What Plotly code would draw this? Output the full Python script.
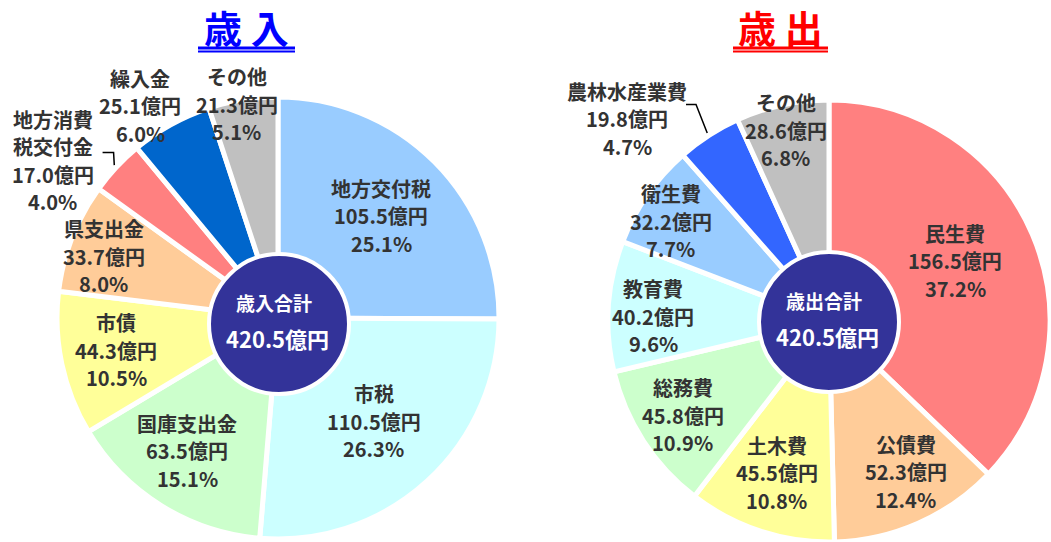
import math
import plotly.graph_objects as go

W, H = 1051, 542
FONT = "Noto Sans CJK JP"
TEXT_COLOR = "#333333"
NAVY = "#333399"

# ---- 歳入 (revenue) ----
rev_labels = ["地方交付税", "市税", "国庫支出金", "市債", "県支出金", "地方消費税交付金", "繰入金", "その他"]
rev_values = [105.5, 110.5, 63.5, 44.3, 33.7, 17.0, 25.1, 21.3]
rev_pcts = [25.1, 26.3, 15.1, 10.5, 8.0, 4.0, 6.0, 5.1]
rev_colors = ["#99CCFF", "#CCFFFF", "#CCFFCC", "#FFFF99", "#FFCC99", "#FF8080", "#0066CC", "#C0C0C0"]
rev_total = 420.5

# ---- 歳出 (expenditure) ----
exp_labels = ["民生費", "公債費", "土木費", "総務費", "教育費", "衛生費", "農林水産業費", "その他"]
exp_values = [156.5, 52.3, 45.5, 45.8, 40.2, 32.2, 19.8, 28.6]
exp_pcts = [37.2, 12.4, 10.8, 10.9, 9.6, 7.7, 4.7, 6.8]
exp_colors = ["#FF8080", "#FFCC99", "#FFFF99", "#CCFFCC", "#CCFFFF", "#99CCFF", "#3366FF", "#C0C0C0"]
exp_total = 420.5

# label wrapping for long category names
wrap = {"地方消費税交付金": ["地方消費", "税交付金"]}

# label placement: radius (fraction of pie radius) and angle tweak (deg)
rev_lab_r = [0.66, 0.64, 0.73, 0.75, 0.84, 1.25, 1.15, 0.99]
rev_lab_da = [0.2, -0.2, 2.4, 0.8, -1.9, -8.1, -4.0, -1.8]
exp_lab_r = [0.635, 0.77, 0.73, 0.79, 0.80, 0.85, 1.30, 0.89]
exp_lab_da = [-2.4, -3.2, 0.9, 0.1, -2.3, -2.6, -12.0, -0.5]

# pie geometry in pixels: centre x, centre y, radius
REV_PIE = (278, 318, 221)
EXP_PIE = (829, 321, 221)
REV_DISC = (279, 324, 70)
EXP_DISC = (829, 322, 70)
LABEL_R = 220
LINE_GAP = 27.5


def px(x):
    return x / W


def py(y):
    return 1 - y / H


def domain(cx, cy, r):
    return dict(x=[max(0, px(cx - r)), min(1, px(cx + r))],
                y=[max(0, py(cy + r)), min(1, py(cy - r))])


def mid_angles(values):
    tot = sum(values)
    out, acc = [], 0.0
    for v in values:
        out.append((acc + v / 2) / tot * 360)
        acc += v
    return out


def polar(center, ang, rad):
    cx, cy = center[0], center[1]
    a = math.radians(ang)
    return cx + rad * math.sin(a), cy - rad * math.cos(a)


fig = go.Figure()


def add_pie(labels, values, colors, geo, disc):
    fig.add_trace(go.Pie(
        labels=labels, values=values, sort=False, direction="clockwise", rotation=0,
        marker=dict(colors=colors, line=dict(color="white", width=5)),
        textinfo="none", hoverinfo="label+value", domain=domain(*geo), showlegend=False,
    ))
    fig.add_trace(go.Pie(
        labels=["合計"], values=[1], sort=False,
        marker=dict(colors=[NAVY], line=dict(color="white", width=4)),
        textinfo="none", hoverinfo="skip", domain=domain(*disc), showlegend=False,
    ))


add_pie(rev_labels, rev_values, rev_colors, REV_PIE, REV_DISC)
add_pie(exp_labels, exp_values, exp_colors, EXP_PIE, EXP_DISC)

annotations = []
shapes = []


def add_text(x, y, text, size, color, yshift=0):
    annotations.append(dict(
        x=px(x), y=py(y), xref="paper", yref="paper", text=text, showarrow=False,
        xanchor="center", yanchor="middle", yshift=yshift, borderpad=0,
        font=dict(family=FONT, size=size, color=color, weight="bold"),
    ))


def add_labels(labels, values, pcts, geo, lab_r, lab_da):
    mids = mid_angles(values)
    pos = []
    for name, v, p, m, rr, da in zip(labels, values, pcts, mids, lab_r, lab_da):
        x, y = polar(geo, m + da, rr * LABEL_R)
        lines = wrap.get(name, [name]) + [f"{v:.1f}億円", f"{p:.1f}%"]
        n = len(lines)
        for i, t in enumerate(lines):
            add_text(x, y, t, 20, TEXT_COLOR, yshift=-(i - (n - 1) / 2) * LINE_GAP)
        pos.append((x, y))
    return mids, pos


rev_mids, rev_pos = add_labels(rev_labels, rev_values, rev_pcts, REV_PIE, rev_lab_r, rev_lab_da)
exp_mids, exp_pos = add_labels(exp_labels, exp_values, exp_pcts, EXP_PIE, exp_lab_r, exp_lab_da)


def leader(geo, ang, start, elbow):
    ex, ey = polar(geo, ang, 224)
    sx, sy = start
    bx, by = elbow
    shapes.append(dict(
        type="path", xref="paper", yref="paper",
        path=f"M {px(sx)},{py(sy)} L {px(bx)},{py(by)} L {px(ex)},{py(ey)}",
        line=dict(color="black", width=1.5),
    ))


# leader lines for the small outside-labelled slices
i = rev_labels.index("地方消費税交付金")
lx, ly = rev_pos[i]
leader(REV_PIE, rev_mids[i], (lx + 50, ly - 8), (lx + 61, ly - 8))
i = exp_labels.index("農林水産業費")
lx, ly = exp_pos[i]
leader(EXP_PIE, exp_mids[i], (lx + 59, ly - 14), (lx + 69, ly - 14))

# centre disc texts
for disc, head, total in ((REV_DISC, "歳入合計", rev_total), (EXP_DISC, "歳出合計", exp_total)):
    cx, cy = disc[0], disc[1]
    add_text(cx - 5, cy - 22, head, 19, "white")
    add_text(cx - 2, cy + 14, f"{total:.1f}億円", 22, "white")

# titles with double underline
for cx, title, color, x0, x1 in ((246, "歳 入", "#0000FF", 198, 295), (780, "歳 出", "#FF0000", 733, 828)):
    add_text(cx, 26.5, title, 38, color)
    shapes.append(dict(type="line", xref="paper", yref="paper", x0=px(x0), x1=px(x1),
                       y0=py(48), y1=py(48), line=dict(color=color, width=3)))
    shapes.append(dict(type="line", xref="paper", yref="paper", x0=px(x0), x1=px(x1),
                       y0=py(51.5), y1=py(51.5), line=dict(color=color, width=2)))

fig.update_layout(
    width=W, height=H, margin=dict(l=0, r=0, t=0, b=0),
    paper_bgcolor="white", plot_bgcolor="white", showlegend=False,
    annotations=annotations, shapes=shapes,
)

fig.write_html("out.html")
